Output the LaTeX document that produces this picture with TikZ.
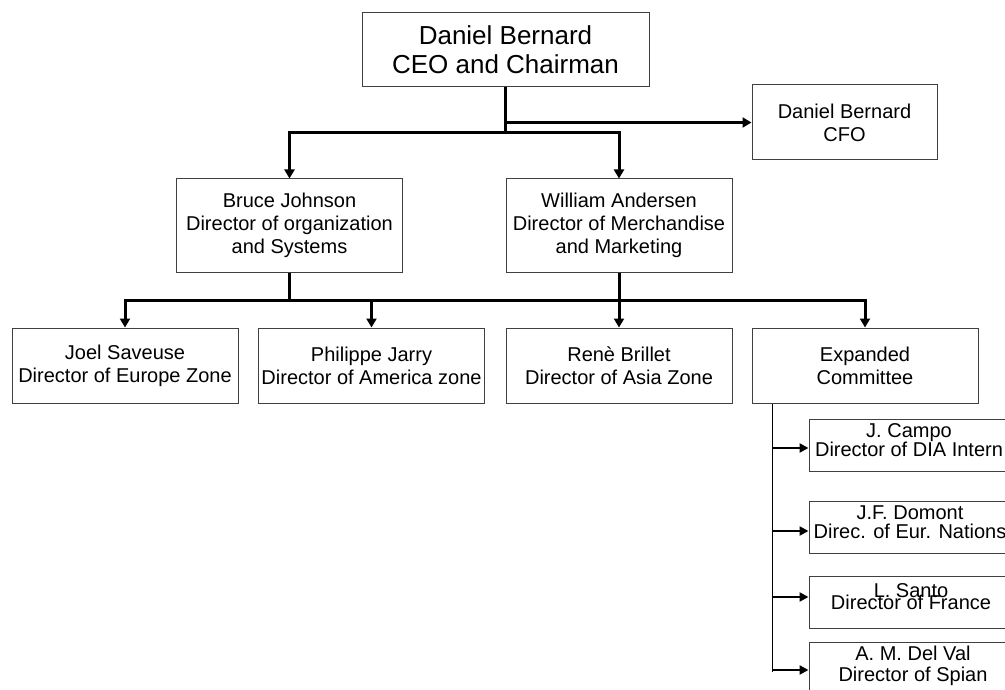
\documentclass[tikz,border=0pt]{standalone}
\usepackage{fontspec}
\setmainfont{Liberation Sans}
\usetikzlibrary{arrows.meta}

% type sizes for the chart
\newcommand{\boxfont}{\fontsize{20}{23}\selectfont}
\newcommand{\headfont}{\fontsize{26}{29}\selectfont}
\newcommand{\tightfont}[1]{\fontsize{20}{#1}\selectfont\lineskiplimit=-100pt\relax}

\begin{document}
\begin{tikzpicture}[x=1pt,y=-1pt,
  box/.style={draw=black!75, line width=1pt, fill=white, align=center,
    inner sep=0pt, font=\boxfont},
  wide/.style={box, minimum width=226pt, minimum height=75pt},
  tall/.style={box, minimum width=226pt, minimum height=93pt},
  subbox/.style={draw=black!75, line width=1pt, fill=white, inner sep=0pt,
    minimum width=201pt, minimum height=52pt},
  captext/.style={align=center, inner sep=0pt},
  trunk/.style={line width=3pt},
  feed/.style={trunk, -{Triangle[length=9pt,width=10pt]}},
  sidefeed/.style={line width=2.5pt, -{Triangle[length=9pt,width=9pt]}},
  twig/.style={line width=1pt}
]
\clip (0,0) rectangle (1005,690);
\fill[white] (0,0) rectangle (1005,690);

% top management
\node[box, font=\headfont, minimum width=287pt, minimum height=74pt]
  (ceo) at (505.5,50) {Daniel Bernard\\CEO and Chairman};
\node[box, minimum width=185pt, minimum height=75pt]
  (cfo) at (844.5,122.5) {Daniel Bernard\\CFO};

% directors
\node[tall] (bruce) at (289.5,225.5) {Bruce Johnson\\Director of organization\\and Systems};
\node[tall] (william) at (619,225.5) {William Andersen\\Director of Merchandise\\and Marketing};

% zones
\node[wide] (joel) at (125,365.5) {Joel Saveuse\\Director of Europe Zone};
\node[wide] (philippe) at (371.5,365.5) {Philippe Jarry\\Director of America zone};
\node[wide] (rene) at (619,365.5) {Renè Brillet\\Director of Asia Zone};
\node[wide] (expanded) at (865,365.5) {Expanded\\Committee};

% expanded committee members
\node[subbox] (campo) at (909.5,445) {};
\node[subbox] (domont) at (909.5,527) {};
\node[subbox] (santo) at (909.5,602) {};
\node[subbox, minimum height=60pt] (delval) at (909.5,672) {};
\node[captext, font=\tightfont{19}] (campoT) at (909,440) {J. Campo\\Director of DIA Intern};
\node[captext, font=\tightfont{19}] (domontT) at (910,522) {J.F. Domont\\Direc. of Eur. Nations};
\node[captext, font=\tightfont{12}] (santoT) at (911,597) {L. Santo\\Director of France};
\node[captext, font=\tightfont{21}] (delvalT) at (913,666) {A. M. Del Val\\Director of Spian};

% connectors from the chairman
\draw[trunk] (ceo.south) -- (ceo.south |- 0,133) coordinate (hub);
\draw[feed] (ceo.south |- cfo.west) -- (cfo.west);
\draw[feed] (hub) -| (bruce.north);
\draw[feed] (hub) -| (william.north);

% connectors to the zones
\draw[trunk] (bruce.south) -- (bruce.south |- 0,300) coordinate (westhub);
\draw[trunk] (william.south) -- (william.south |- 0,300) coordinate (easthub);
\draw[trunk] (westhub) -- (easthub);
\draw[feed] (westhub) -| (joel.north);
\draw[feed] (westhub) -| (philippe.north);
\draw[feed] (easthub) -- (rene.north);
\draw[feed] (easthub) -| (expanded.north);

% committee stem
\coordinate (stem) at ([xshift=21pt]expanded.south west);
\draw[twig] (stem) -- (stem |- 0,672);
\draw[sidefeed] (stem |- 0,448) -- (campo.west |- 0,448);
\draw[sidefeed] (stem |- 0,531) -- (domont.west |- 0,531);
\draw[sidefeed] (stem |- 0,597) -- (santo.west |- 0,597);
\draw[sidefeed] (stem |- 0,670) -- (delval.west |- 0,670);
\end{tikzpicture}
\end{document}
